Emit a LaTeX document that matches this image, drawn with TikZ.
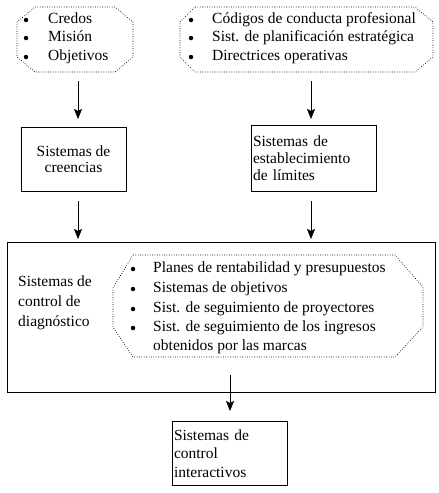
\documentclass[tikz,border=0pt]{standalone}
\usepackage{fontspec}
\setmainfont{Liberation Serif}
\usetikzlibrary{arrows.meta}
\begin{document}
\begin{tikzpicture}[x=1pt,y=-1pt,
  txt/.style={inner sep=0pt,anchor=west,font=\fontsize{15.5}{18}\selectfont,text height=10pt,text depth=3pt},
  bul/.style={circle,fill=black,inner sep=0pt,minimum size=4.5pt},
  dotline/.style={line width=0.6pt,dash pattern=on 0.8pt off 1.6pt},
  boxs/.style={draw,line width=0.8pt,inner xsep=2pt,inner ysep=0pt,font=\fontsize{15.5}{16.5}\selectfont},
  arr/.style={line width=0.7pt,-{Stealth[length=10pt,width=8pt,inset=2pt]}}]
\useasboundingbox (0,0) rectangle (439,493);
% top-left octagon
\draw[dotline] (35,7) -- (115,7) -- (133,22) -- (133,57) -- (115,72) -- (35,72) -- (17,57) -- (17,22) -- cycle;
\node[bul] (b11) at (26,20) {};
\node[bul] (b12) at (26,38) {};
\node[bul] (b13) at (26,57) {};
\node[txt] (t11) at (48,20) {Credos};
\node[txt] (t12) at (48,38) {Misión};
\node[txt] (t13) at (48,57) {Objetivos};
% top-right octagon
\draw[dotline] (195,7) -- (415,7) -- (433,22) -- (433,57) -- (415,72) -- (195,72) -- (180,57) -- (180,22) -- cycle;
\node[bul] (b21) at (191,20) {};
\node[bul] (b22) at (191,38) {};
\node[bul] (b23) at (191,57) {};
\node[txt] (t21) at (212,20) {Códigos de conducta profesional};
\node[txt] (t22) at (212,38) {Sist. de planificación estratégica};
\node[txt] (t23) at (212,57) {Directrices operativas};
% boxes
\node[boxs,minimum width=105pt,minimum height=64pt,align=center] (cre) at (73.5,159) {Sistemas de\\creencias};
\node[boxs,minimum width=125pt,minimum height=66pt,text width=121pt,align=left,font=\fontsize{15.5}{17}\selectfont] (lim) at (313.5,158) {Sistemas de\\establecimiento\\de límites};
\node[draw,line width=0.8pt,minimum width=428pt,minimum height=150pt,inner sep=0pt] (diag) at (221,317) {};
\node[txt,align=left,font=\fontsize{15.5}{20}\selectfont,text height=,text depth=] (dl) at (18,303) {Sistemas de\\control de\\diagnóstico};
% inner octagon
\draw[dotline] (133,255) -- (395,255) -- (423,287) -- (423,327) -- (395,357) -- (133,357) -- (113,327) -- (113,288) -- cycle;
\node[bul] (b31) at (133,269) {};
\node[bul] (b32) at (133,289) {};
\node[bul] (b33) at (133,309) {};
\node[bul] (b34) at (133,328) {};
\node[txt] (t31) at (153,269) {Planes de rentabilidad y presupuestos};
\node[txt] (t32) at (153,289) {Sistemas de objetivos};
\node[txt] (t33) at (153,309) {Sist. de seguimiento de proyectores};
\node[txt] (t34) at (153,328) {Sist. de seguimiento de los ingresos};
\node[txt] (t35) at (153,347) {obtenidos por las marcas};
% bottom box
\node[boxs,minimum width=115pt,minimum height=64pt,text width=111pt,align=left,font=\fontsize{15.5}{18.5}\selectfont] (int) at (229.5,453.5) {Sistemas de\\control\\interactivos};
% arrows
\coordinate (a1s) at (78,81); \coordinate (a1e) at (78,119);
\coordinate (a2s) at (311,81); \coordinate (a2e) at (311,119);
\coordinate (a3s) at (78,201); \coordinate (a3e) at (78,239);
\coordinate (a4s) at (311,201); \coordinate (a4e) at (311,239);
\coordinate (a5s) at (230,375); \coordinate (a5e) at (230,411);
\draw[arr] (a1s) -- (a1e);
\draw[arr] (a2s) -- (a2e);
\draw[arr] (a3s) -- (a3e);
\draw[arr] (a4s) -- (a4e);
\draw[arr] (a5s) -- (a5e);
\end{tikzpicture}
\end{document}
